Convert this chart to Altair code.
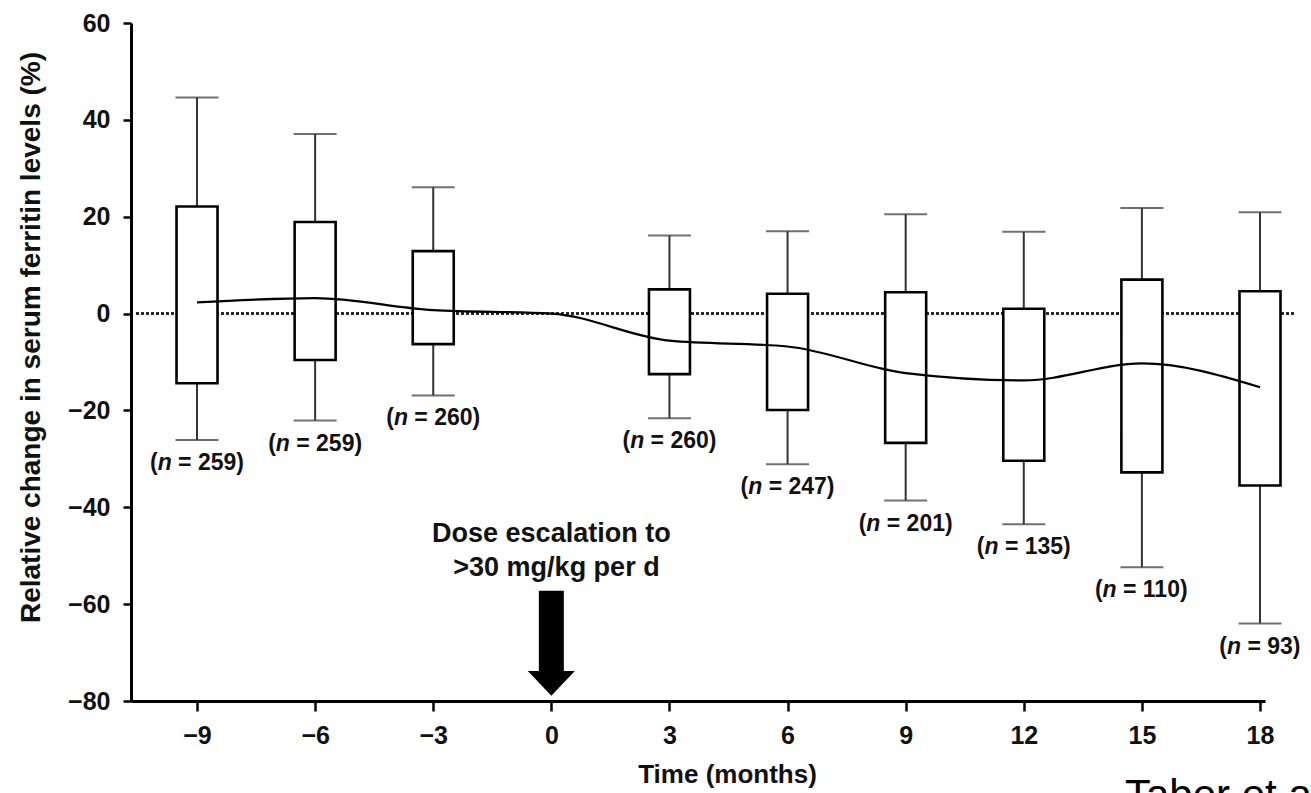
import altair as alt
import pandas as pd

# ---- data ----
times = [-9, -6, -3, 3, 6, 9, 12, 15, 18]
whisker_high = [44.6, 37.1, 26.1, 16.1, 17.0, 20.5, 16.9, 21.8, 20.9]
q3_values = [22.1, 18.9, 12.9, 5.0, 4.1, 4.4, 1.0, 7.0, 4.6]
q1_values = [-14.4, -9.6, -6.3, -12.5, -19.9, -26.7, -30.4, -32.8, -35.5]
whisker_low = [-26.1, -22.1, -16.9, -21.6, -31.1, -38.6, -43.5, -52.4, -64.0]
n_values = [259, 259, 260, 260, 247, 201, 135, 110, 93]

line_times = [-9, -6, -3, 0, 3, 6, 9, 12, 15, 18]
line_values = [2.3, 3.2, 0.7, 0.0, -5.6, -6.8, -12.3, -13.8, -10.3, -15.2]

x_ticks = [-9, -6, -3, 0, 3, 6, 9, 12, 15, 18]
y_ticks = [-80, -60, -40, -20, 0, 20, 40, 60]

annotation_lines = ["Dose escalation to", ">30 mg/kg per d"]
annotation_x = [0.0, 0.13]
annotation_y = [-45.5, -52.5]
arrow_x = [0.0]
arrow_y = [-68.1]
source_label = ["Taber et al."]

boxes = pd.DataFrame({"t": times, "hi": whisker_high, "q3": q3_values,
                      "q1": q1_values, "lo": whisker_low, "n": n_values})
line_df = pd.DataFrame({"t": line_times, "v": line_values})
ann_df = pd.DataFrame({"t": annotation_x, "v": annotation_y, "label": annotation_lines})
arrow_df = pd.DataFrame({"t": arrow_x, "v": arrow_y})
src_df = pd.DataFrame({"label": source_label})

FONT = "Liberation Sans"
X_DOMAIN = [-10.55, 18]
Y_DOMAIN = [-80, 60]
xscale = alt.Scale(domain=X_DOMAIN, nice=False, zero=False)
yscale = alt.Scale(domain=Y_DOMAIN, nice=False, zero=False)
minus_expr = "datum.value < 0 ? '\u2212' + abs(datum.value) : '' + datum.value"

common_axis = dict(
    domainColor="black", domainWidth=3, tickColor="black", tickWidth=2.5,
    labelFont=FONT, labelFontSize=25, labelFontWeight="bold", labelColor="#111",
    titleFont=FONT, titleFontWeight="bold", titleColor="#111",
    grid=False, labelFlush=False, labelOverlap=False,
)
x_axis = alt.Axis(values=x_ticks, labelExpr=minus_expr, title="Time (months)",
                  tickSize=10, labelPadding=12, titleX=596, titleY=81, titleFontSize=26,
                  titleAlign="center", titleBaseline="alphabetic", **common_axis)
y_axis = alt.Axis(values=y_ticks, labelExpr=minus_expr,
                  title="Relative change in serum ferritin levels (%)",
                  tickSize=8, labelPadding=13, titleX=-92, titleY=314, titleFontSize=28,
                  titleAlign="center", titleBaseline="alphabetic", titleAngle=270,
                  **common_axis)


def X(field="t"):
    return alt.X(f"{field}:Q", scale=xscale, axis=x_axis)


def Y(field):
    return alt.Y(f"{field}:Q", scale=yscale, axis=y_axis)


zero_line = alt.Chart(boxes).mark_rule(
    strokeDash=[3, 2], strokeWidth=1.6, color="#222"
).encode(x=alt.datum(X_DOMAIN[0]), x2=alt.datum(18.9), y=alt.datum(0))

base = alt.Chart(boxes)

whiskers = base.mark_rule(color="#333", strokeWidth=2).encode(
    x=X(), y=Y("lo"), y2="hi:Q")
cap_hi = base.mark_tick(orient="horizontal", size=43, thickness=2, color="#333").encode(
    x=X(), y=Y("hi"))
cap_lo = base.mark_tick(orient="horizontal", size=43, thickness=2, color="#333").encode(
    x=X(), y=Y("lo"))
box = base.mark_bar(size=41, fill="white", stroke="black", strokeWidth=2.6).encode(
    x=X(), y=Y("q1"), y2="q3:Q")

trend = alt.Chart(line_df).mark_line(
    color="black", strokeWidth=2.2, interpolate="monotone"
).encode(x=X(), y=Y("v"))

lab_base = base.transform_calculate(
    tl="datum.t + (3 - length('' + datum.n)) * 6.4 / 39.8",
    rest="'= ' + datum.n + ')'",
    open="'('",
    nn="'n'",
)
lab_style = dict(font=FONT, fontSize=23, fontWeight="bold", color="#111",
                 baseline="middle", dy=23)
lab_open = lab_base.mark_text(align="right", dx=-39.3, **lab_style).encode(
    x=X("tl"), y=Y("lo"), text="open:N")
lab_n = lab_base.mark_text(align="center", dx=-32.3, fontStyle="italic", **lab_style).encode(
    x=X("tl"), y=Y("lo"), text="nn:N")
lab_rest = lab_base.mark_text(align="left", dx=-18.9, **lab_style).encode(
    x=X("tl"), y=Y("lo"), text="rest:N")

ann = alt.Chart(ann_df).mark_text(
    font=FONT, fontSize=27, fontWeight="bold", color="#111", align="center", baseline="middle"
).encode(x=X(), y=Y("v"), text="label:N")

arrow_path = ("M-0.238,-1 L0.238,-1 L0.238,0.524 L0.448,0.524 L0,1 "
              "L-0.448,0.524 L-0.238,0.524 Z")
arrow = alt.Chart(arrow_df).mark_point(
    shape=arrow_path, size=11025, filled=True, fill="black", stroke=None, opacity=1
).encode(x=X(), y=Y("v"))

source = alt.Chart(src_df).mark_text(
    font=FONT, fontSize=42, color="black", align="left", baseline="alphabetic"
).encode(x=alt.value(994), y=alt.value(786), text="label:N")

chart = alt.layer(
    zero_line, whiskers, cap_hi, cap_lo, box, trend,
    lab_open, lab_n, lab_rest, ann, arrow, source
).properties(
    width=1134, height=678,
    autosize=alt.AutoSizeParams(type="none"),
    padding={"left": 131, "top": 23, "right": 46, "bottom": 92},
    background="white",
).configure_view(strokeWidth=0)

chart.save("out.html", embed_options={"renderer": "svg", "actions": False})
